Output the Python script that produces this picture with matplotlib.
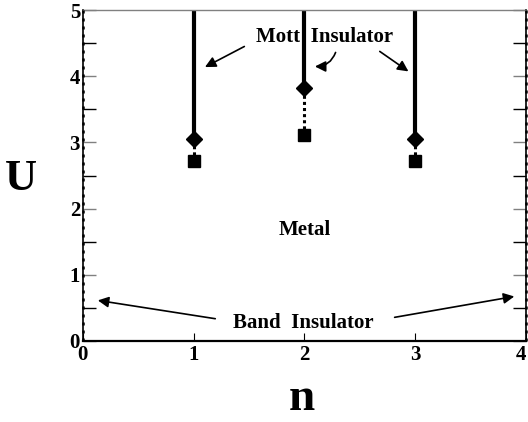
import matplotlib
matplotlib.use("Agg")
import matplotlib.pyplot as plt
import numpy as np

plt.rcParams['font.family'] = ['Liberation Serif', 'DejaVu Serif']
plt.rcParams['font.weight'] = 'bold'

n_vals = [1, 2, 3]
u_diamond = [3.05, 3.83, 3.05]
u_square = [2.72, 3.11, 2.72]
u_top = 5.0
x_ticks = [0, 1, 2, 3, 4]
y_ticks = [0, 1, 2, 3, 4, 5]

fig = plt.figure(figsize=(5.28, 4.22), dpi=100)
ax = fig.add_axes([0.157, 0.192, 0.839, 0.784])
ax.set_xlim(0, 4)
ax.set_ylim(0, 5)

for n, ud, us in zip(n_vals, u_diamond, u_square):
    ax.plot([n, n], [ud, u_top], color='black', lw=3.0, solid_capstyle='butt', zorder=2)
    ax.plot([n, n], [us, ud], color='black', lw=2.2, ls=(0, (1, 1)), zorder=2)
ax.plot(n_vals, u_diamond, 'D', color='black', ms=8.5, zorder=3)
ax.plot(n_vals, u_square, 's', color='black', ms=8, zorder=3)

tf = dict(fontsize=15, fontweight='bold', ha='center', va='center')
ax.text(2.18, 4.59, 'Mott  Insulator', **tf)
ax.text(2.0, 1.68, 'Metal', **tf)
ax.text(1.99, 0.27, 'Band  Insulator', **tf)

ap = dict(arrowstyle='-|>', color='black', lw=1.2, mutation_scale=16)
ax.annotate('', xy=(1.08, 4.12), xytext=(1.48, 4.47), arrowprops=ap)
ax.annotate('', xy=(2.07, 4.15), xytext=(2.29, 4.40),
            arrowprops=dict(ap, connectionstyle='arc3,rad=-0.4'))
ax.annotate('', xy=(2.96, 4.05), xytext=(2.66, 4.40), arrowprops=ap)
ax.annotate('', xy=(0.11, 0.62), xytext=(1.22, 0.33), arrowprops=ap)
ax.annotate('', xy=(3.92, 0.68), xytext=(2.79, 0.35), arrowprops=ap)

# dotted texture along the side spines
for xs in (0, 4):
    ax.plot([xs, xs], [0, 5], color='black', lw=1.8, ls=(0, (1.2, 2.0)),
            clip_on=False, zorder=4)

ax.set_xticks(x_ticks)
ax.set_yticks(y_ticks)
ax.set_yticks(np.arange(0.5, 5, 1.0), minor=True)
ax.set_xticklabels([str(v) for v in x_ticks], fontsize=15, fontweight='bold')
ax.set_yticklabels([str(v) for v in y_ticks], fontsize=15, fontweight='bold')
ax.get_xticklabels()[-1].set_horizontalalignment('right')
ax.tick_params(axis='y', which='both', direction='in', length=9.5, width=1,
               left=True, right=True, pad=2, colors='black')
ax.tick_params(axis='y', which='major', color='gray')
ax.tick_params(axis='x', which='major', direction='in', length=6, width=0.8,
               top=False, pad=3)

for s in ['left', 'right']:
    ax.spines[s].set_linewidth(1.2)
ax.spines['bottom'].set_linewidth(1.6)
ax.spines['top'].set_color('gray')
ax.spines['top'].set_linewidth(1.0)

ax.set_xlabel('n', fontsize=34, fontweight='bold', va='baseline')
ax.xaxis.set_label_coords(0.494, -0.21)
ax.set_ylabel('U', fontsize=32, fontweight='bold', rotation=0, va='center')
ax.yaxis.set_label_coords(-0.14, 0.49)

fig.savefig('out.png', dpi=100)
